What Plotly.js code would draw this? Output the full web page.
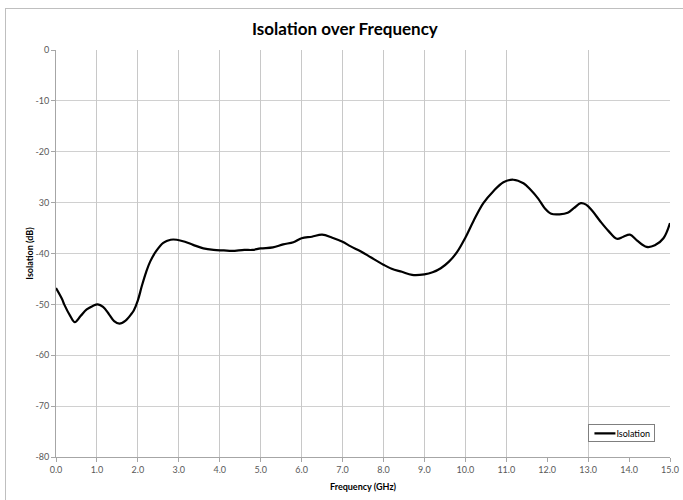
<!DOCTYPE html>
<html>
<head>
<meta charset="utf-8">
<script src="https://cdn.plot.ly/plotly-3.0.1.min.js"></script>
<style>
html,body{margin:0;padding:0;background:#fff;overflow:hidden;width:683px;height:500px;}
#frame{position:absolute;left:5px;top:8px;width:700px;height:520px;border:1px solid #bfbfbf;box-sizing:border-box;}
#chart{position:absolute;left:0;top:0;width:683px;height:500px;}
</style>
</head>
<body>
<div id="frame"></div>
<div id="chart"></div>
<script>
// Frequency (GHz)
const freq = [0.0,0.15,0.2,0.35,0.46,0.6,0.75,0.9,1.02,1.15,1.3,1.42,1.55,1.7,1.85,1.9,2.0,2.1,2.2,2.3,2.45,2.62,2.8,2.95,3.15,3.35,3.6,3.85,4.1,4.3,4.6,4.8,5.0,5.3,5.55,5.8,6.0,6.25,6.5,6.75,7.0,7.2,7.45,7.7,8.0,8.2,8.45,8.7,9.0,9.2,9.4,9.6,9.8,10.0,10.2,10.44,10.68,10.93,11.17,11.42,11.6,11.78,11.95,12.1,12.3,12.5,12.65,12.82,12.95,13.1,13.3,13.5,13.7,13.86,14.02,14.19,14.43,14.63,14.84,15.0];
// Isolation (dB)
const isolation = [-46.8,-49.0,-50.0,-52.3,-53.5,-52.3,-51.0,-50.3,-50.0,-50.5,-52.0,-53.3,-53.8,-53.2,-51.8,-51.2,-49.2,-46.3,-43.7,-41.6,-39.5,-37.9,-37.3,-37.3,-37.7,-38.3,-39.0,-39.3,-39.4,-39.5,-39.3,-39.3,-39.0,-38.8,-38.2,-37.8,-37.0,-36.7,-36.3,-36.9,-37.7,-38.6,-39.6,-40.8,-42.2,-43.0,-43.6,-44.2,-44.1,-43.7,-42.9,-41.6,-39.7,-36.9,-33.6,-30.1,-27.8,-26.0,-25.5,-26.2,-27.5,-29.2,-31.2,-32.2,-32.3,-32.0,-31.1,-30.1,-30.4,-31.6,-33.7,-35.6,-37.1,-36.7,-36.3,-37.4,-38.7,-38.4,-37.0,-34.0];

const xTickVals = [0,1,2,3,4,5,6,7,8,9,10,11,12,13,14,15];
const xTickText = ["0.0","1.0","2.0","3.0","4.0","5.0","6.0","7.0","8.0","9.0","10.0","11.0","12.0","13.0","14.0","15.0"];
const xGridVals = [1,2,3,4,5,6,7,8,9,10,11,13,15];
const yTickVals = [0,-10,-20,-30,-40,-50,-60,-70,-80];
const yTickText = ["0","-10","-20","30","-40","-50","-60","-70","-80"];

const FONT = 'Lato, "Open Sans", sans-serif';
const tickFont = {family: FONT, size: 9, color: '#595959'};

const data = [
  { // invisible copy that anchors the grid-only overlay axis
    x: freq, y: isolation, xaxis: 'x2', yaxis: 'y', type: 'scatter', mode: 'lines',
    showlegend: false, hoverinfo: 'skip', opacity: 0, line: {color: 'rgba(0,0,0,0)', width: 0}
  },
  {
    x: freq, y: isolation, xaxis: 'x', yaxis: 'y',
    type: 'scatter', mode: 'lines', name: 'Isolation',
    line: {color: '#000000', width: 2.2, shape: 'spline', smoothing: 1}
  }
];

const layout = {
  width: 683, height: 500,
  paper_bgcolor: 'rgba(0,0,0,0)', plot_bgcolor: '#ffffff',
  margin: {l: 56, r: 13, t: 50, b: 43},
  title: {text: '<b>Isolation over Frequency</b>', font: {family: FONT, size: 17, color: '#000'}, x: 0.505, xanchor: 'center', y: 0.941, yanchor: 'middle'},
  showlegend: true,
  legend: {x: 0.974, xanchor: 'right', y: 0.079, yanchor: 'top', bgcolor: '#fff', bordercolor: '#7f7f7f', borderwidth: 1, font: {family: FONT, size: 9, color: '#000'}, itemwidth: 30, tracegroupgap: 0},
  xaxis: {
    range: [0, 15], tickmode: 'array', tickvals: xTickVals, ticktext: xTickText,
    showgrid: false, zeroline: false, showline: true, linecolor: '#a6a6a6', linewidth: 1,
    ticks: 'outside', ticklen: 4, tickcolor: '#a6a6a6', tickfont: tickFont,
    title: {text: '<b>Frequency (GHz)</b>', font: {family: FONT, size: 9, color: '#000'}, standoff: 9}
  },
  xaxis2: {
    range: [0, 15], overlaying: 'x', anchor: 'y', tickmode: 'array', tickvals: xGridVals,
    showgrid: true, gridcolor: '#c8c8c8', gridwidth: 1, showticklabels: false, ticks: '', zeroline: false, showline: false
  },
  yaxis: {
    range: [-80, 0], tickmode: 'array', tickvals: yTickVals, ticktext: yTickText,
    showgrid: true, gridcolor: '#d0d0d0', gridwidth: 1, zeroline: false, showline: true, linecolor: '#a6a6a6', linewidth: 1,
    ticks: 'outside', ticklen: 4, tickcolor: '#a6a6a6', tickfont: tickFont,
    title: {text: '<b>Isolation (dB)</b>', font: {family: FONT, size: 9, color: '#000'}, standoff: 0}
  }
};

Plotly.newPlot('chart', data, layout, {displayModeBar: false, staticPlot: true}).then(function () {
  // Excel-style compact legend: short line sample, text right after it, box hugging the text
  const leg = document.querySelector('#chart .legend');
  if (!leg) return;
  const path = leg.querySelector('.legendlines path');
  if (path) path.setAttribute('d', 'M5,0h21');
  const txt = leg.querySelector('text.legendtext');
  const bg = leg.querySelector('rect.bg');
  if (!txt || !bg) return;
  txt.setAttribute('x', 27);
  const bgBox = bg.getBoundingClientRect();
  const tBox = txt.getBoundingClientRect();
  const boxH = 17;
  const newW = tBox.right - bgBox.left + 4;
  const tCenter = (tBox.top + tBox.bottom) / 2;
  const newTop = tCenter - boxH / 2;
  bg.setAttribute('width', newW);
  bg.setAttribute('height', boxH);
  bg.setAttribute('y', (+bg.getAttribute('y') || 0) + (newTop - bgBox.top));
  const m = /translate\(([-\d.]+),\s*([-\d.]+)\)/.exec(leg.getAttribute('transform') || '');
  const chartBox = document.getElementById('chart').getBoundingClientRect();
  const plotW = layout.width - layout.margin.l - layout.margin.r;
  const plotH = layout.height - layout.margin.t - layout.margin.b;
  const targetRight = chartBox.left + layout.margin.l + layout.legend.x * plotW;
  const targetTop = chartBox.top + layout.margin.t + (1 - layout.legend.y) * plotH;
  if (m) {
    const dx = targetRight - (bgBox.left + newW);
    const dy = targetTop - newTop;
    leg.setAttribute('transform', 'translate(' + (+m[1] + dx) + ',' + (+m[2] + dy) + ')');
  }
});
</script>
</body>
</html>
